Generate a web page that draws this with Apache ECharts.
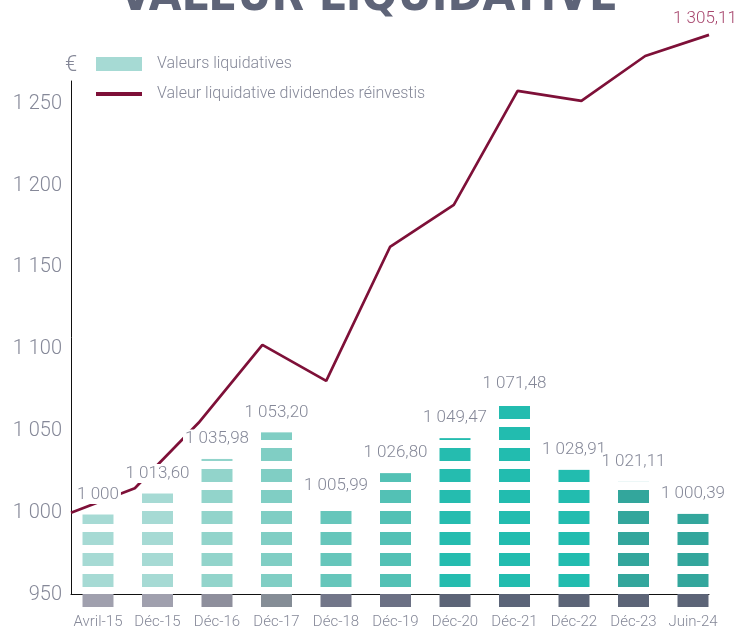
<!DOCTYPE html>
<html>
<head>
<meta charset="utf-8">
<script src="https://cdn.jsdelivr.net/npm/echarts@6/dist/echarts.min.js"></script>
<style>
  html, body { margin: 0; padding: 0; background: #fff; }
  #chart { width: 737px; height: 631px; }
</style>
</head>
<body>
<div id="chart"></div>
<script>
// catégories (dates)
const categories = ['Avril-15', 'Déc-15', 'Déc-16', 'Déc-17', 'Déc-18', 'Déc-19', 'Déc-20', 'Déc-21', 'Déc-22', 'Déc-23', 'Juin-24']
// valeurs liquidatives (barres)
const liquidValues = [1000, 1013.60, 1035.98, 1053.20, 1005.99, 1026.80, 1049.47, 1071.48, 1028.91, 1021.11, 1000.39]
// valeur liquidative dividendes réinvestis (courbe)
const reinvestedValues = [1000, 1015, 1055, 1102.6, 1080.6, 1162.5, 1188.2, 1258, 1251.8, 1279.3, 1292.2]
const reinvestedLastLabel = '1 305,11'
// graduations de l'axe
const yTicks = [950, 1000, 1050, 1100, 1150, 1200, 1250]

const barColors = ['#a6dad4', '#a6dad4', '#92d4cb', '#80cec4', '#66c6bb', '#53c1b5', '#25bcaf', '#22bcaf', '#22bcaf', '#33a69c', '#33a69c']
const baseColors = ['#a0a0ae', '#a0a0ae', '#8e8f9c', '#858d96', '#727689', '#6b7084', '#5c6477', '#5b6478', '#5c6477', '#5c6477', '#5c6477']

const textColor = '#858898'
const lineColor = '#7e1038'
const fontFamily = 'Roboto'
const barAxisMin = 940.1
const barAxisMax = 1281.4

// format français : 1 013,60
const fmt = (v) => {
  const parts = (Number.isInteger(v) ? String(v) : v.toFixed(2)).split('.')
  const int = parts[0].replace(/\B(?=(\d{3})+(?!\d))/g, ' ')
  return parts[1] ? int + ',' + parts[1] : int
}

const chart = echarts.init(document.getElementById('chart'))

// barres en blocs empilés
const renderBlocks = (params, api) => {
  const i = api.value(0)
  const v = api.value(1)
  const top = api.coord([i, v])
  const base = api.coord([i, barAxisMin])
  const w = 31
  const cx = top[0]
  const children = [{
    type: 'rect',
    shape: { x: cx - w / 2, y: base[1] - 13, width: w, height: 13 },
    style: { fill: baseColors[i] }
  }]
  let bottom = base[1] - 20
  while (bottom > top[1]) {
    const t = Math.max(bottom - 13, top[1])
    children.push({
      type: 'rect',
      shape: { x: cx - w / 2, y: t, width: w, height: bottom - t },
      style: { fill: barColors[i] }
    })
    bottom -= 21
  }
  children.push({
    type: 'text',
    x: cx,
    y: top[1] - 20,
    style: {
      text: fmt(liquidValues[i]),
      fill: textColor,
      font: '300 17px ' + fontFamily,
      align: 'center',
      verticalAlign: 'middle',
      backgroundColor: '#fff',
      padding: [1, 2]
    }
  })
  return { type: 'group', children }
}

const option = {
  animation: false,
  graphic: [
    {
      type: 'text',
      left: 'center',
      top: -26,
      style: {
        text: 'VALEUR LIQUIDATIVE',
        fill: '#5e6478',
        font: 'bold 47px "DejaVu Sans Condensed"'
      }
    },
    {
      type: 'text',
      left: 65,
      top: 54,
      style: { text: '€', fill: textColor, font: '300 22px ' + fontFamily }
    }
  ],
  legend: {
    orient: 'vertical',
    left: 96,
    top: 56,
    padding: 0,
    itemWidth: 46,
    itemHeight: 14,
    itemGap: 14,
    textStyle: { color: textColor, fontSize: 16, fontWeight: 300, fontFamily, padding: [0, 0, 0, 10] },
    data: [
      { name: 'Valeurs liquidatives', icon: 'rect', itemStyle: { color: barColors[0] } },
      {
        name: 'Valeur liquidative dividendes réinvestis',
        icon: 'path://M0,0L46,0L46,4L0,4Z',
        itemStyle: { color: lineColor },
        lineStyle: { width: 0 }
      }
    ]
  },
  grid: [
    { left: 71, top: 81, width: 638, height: 513.5 },
    { left: 68.25, top: 80, width: 654.5, height: 527 }
  ],
  xAxis: [
    {
      gridIndex: 0,
      type: 'category',
      boundaryGap: false,
      data: categories,
      axisLine: { lineStyle: { color: '#111', width: 1 } },
      axisTick: { show: false },
      axisLabel: { show: false }
    },
    {
      gridIndex: 1,
      type: 'category',
      data: categories,
      axisLine: { show: false },
      axisTick: { show: false },
      axisLabel: { interval: 0, color: textColor, fontSize: 15, fontWeight: 300, fontFamily, margin: 8 }
    }
  ],
  yAxis: [
    {
      gridIndex: 0,
      type: 'value',
      min: yTicks[0],
      max: 1264,
      interval: 50,
      splitLine: { show: false },
      axisLine: { show: true, lineStyle: { color: '#111', width: 1 } },
      axisTick: { show: false },
      axisLabel: {
        color: textColor,
        fontSize: 20,
        fontWeight: 300,
        fontFamily,
        margin: 9,
        showMaxLabel: false,
        formatter: (v) => (yTicks.includes(v) ? fmt(v) : '')
      }
    },
    {
      gridIndex: 1,
      type: 'value',
      min: barAxisMin,
      max: barAxisMax,
      show: false
    }
  ],
  series: [
    {
      name: 'Valeur liquidative dividendes réinvestis',
      type: 'line',
      xAxisIndex: 0,
      yAxisIndex: 0,
      symbol: 'none',
      clip: false,
      z: 2,
      lineStyle: { color: lineColor, width: 2.7 },
      itemStyle: { color: lineColor },
      data: reinvestedValues,
      endLabel: {
        show: true,
        formatter: reinvestedLastLabel,
        offset: [-44, -16],
        color: '#a8486f',
        fontSize: 17,
        fontWeight: 300,
        fontFamily
      }
    },
    {
      name: 'Valeurs liquidatives',
      type: 'custom',
      xAxisIndex: 1,
      yAxisIndex: 1,
      z: 3,
      clip: false,
      itemStyle: { color: barColors[0] },
      renderItem: renderBlocks,
      encode: { x: 0, y: 1 },
      data: liquidValues.map((v, i) => [i, v])
    }
  ]
}

chart.setOption(option)
</script>
</body>
</html>
